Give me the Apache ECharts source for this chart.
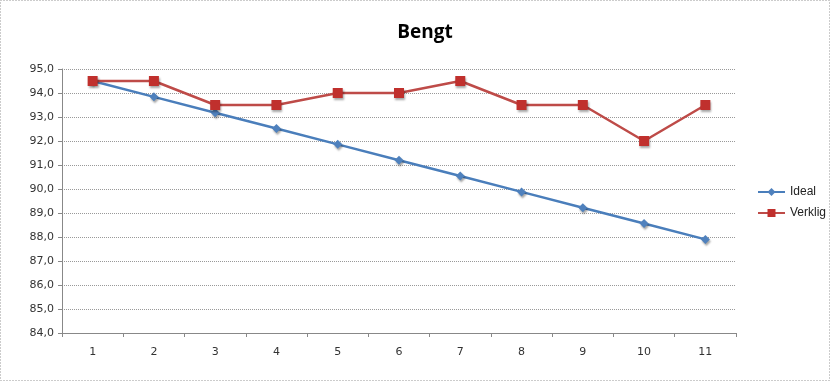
<!DOCTYPE html>
<html><head><meta charset="utf-8">
<script src="https://cdn.jsdelivr.net/npm/echarts@6/dist/echarts.min.js"></script>
<style>html,body{margin:0;padding:0;background:#fff}#c{width:835px;height:383px}</style>
</head><body><div id="c"></div>
<script>
const categories = ['1','2','3','4','5','6','7','8','9','10','11'];
const ideal = [94.5, 93.84, 93.18, 92.52, 91.86, 91.2, 90.54, 89.88, 89.22, 88.56, 87.9];
const verklig = [94.5, 94.5, 93.5, 93.5, 94.0, 94.0, 94.5, 93.5, 93.5, 92.0, 93.5];
const titleText = 'Bengt';

const chart = echarts.init(document.getElementById('c'));
const labelFont = {fontFamily: 'DejaVu Sans', fontSize: 11, color: '#333'};
chart.setOption({
  animation: false,
  backgroundColor: '#fff',
  title: {text: titleText, left: 420, top: 18, textAlign: 'center',
    textStyle: {fontFamily: 'Open Sans', fontWeight: 'bold', fontSize: 19, color: '#000'}},
  graphic: [{type: 'rect', shape: {x: 0.5, y: 0.5, width: 829, height: 380},
    style: {fill: 'none', stroke: '#999', lineWidth: 1, lineDash: [1, 2]}}],
  legend: {orient: 'vertical', left: 752, top: 181, itemGap: 9, itemWidth: 27, itemHeight: 10,
    textStyle: {fontFamily: 'Liberation Sans', fontSize: 12, color: '#222'},
    data: ['Ideal', 'Verklig']},
  grid: {left: 62, right: 99, top: 69, bottom: 50},
  xAxis: {type: 'category', data: categories, boundaryGap: true,
    axisLine: {lineStyle: {color: '#888'}},
    axisTick: {show: true, length: 4, lineStyle: {color: '#888'}},
    axisLabel: Object.assign({margin: 14}, labelFont)},
  yAxis: {type: 'value', min: 84, max: 95, interval: 1,
    axisLine: {show: true, lineStyle: {color: '#888'}},
    axisTick: {show: true, length: 4, lineStyle: {color: '#888'}},
    axisLabel: Object.assign({margin: 8, formatter: v => v.toFixed(1).replace('.', ',')}, labelFont),
    splitLine: {lineStyle: {color: '#999', type: [1, 1]}}},
  series: [
    {name: 'Ideal', type: 'line', data: ideal, symbol: 'diamond', symbolSize: 9,
      lineStyle: {color: '#4a7ebb', width: 2.5},
      itemStyle: {color: '#4f81bd', shadowColor: 'rgba(0,0,0,0.35)', shadowBlur: 2, shadowOffsetX: 1, shadowOffsetY: 2}},
    {name: 'Verklig', type: 'line', data: verklig, symbol: 'rect', symbolSize: 10,
      lineStyle: {color: '#be4b48', width: 2.5},
      itemStyle: {color: '#c0302d', shadowColor: 'rgba(0,0,0,0.35)', shadowBlur: 2, shadowOffsetX: 1, shadowOffsetY: 2}}
  ]
});
</script></body></html>
